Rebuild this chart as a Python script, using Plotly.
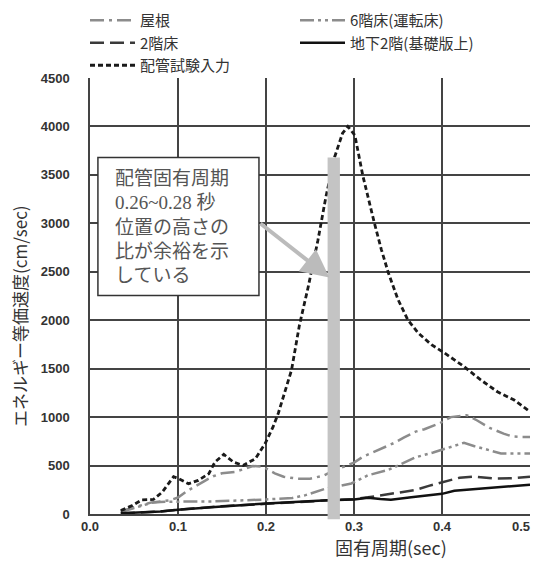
import plotly.graph_objects as go

# ---- data ----
roof_x = [0.035, 0.05, 0.07, 0.09, 0.10, 0.11, 0.12, 0.13, 0.14, 0.15, 0.165, 0.175, 0.185, 0.195,
          0.20, 0.21, 0.22, 0.235, 0.25, 0.265, 0.275, 0.29, 0.30, 0.31, 0.32, 0.333, 0.346, 0.357,
          0.37, 0.38, 0.397, 0.41, 0.428, 0.44, 0.455, 0.47, 0.48, 0.49, 0.50]
roof_y = [30, 70, 120, 140, 170, 235, 290, 340, 390, 420, 435, 465, 495, 490,
          470, 420, 385, 365, 365, 395, 440, 495, 530, 590, 630, 685, 735, 790,
          850, 875, 935, 1000, 1020, 965, 885, 830, 800, 795, 795]

f6_x = [0.035, 0.05, 0.07, 0.08, 0.10, 0.12, 0.14, 0.16, 0.18, 0.20, 0.22, 0.23, 0.245, 0.267,
        0.286, 0.297, 0.316, 0.339, 0.357, 0.37, 0.39, 0.41, 0.425, 0.437, 0.45, 0.467, 0.48, 0.50]
f6_y = [20, 60, 115, 125, 130, 130, 130, 135, 140, 150, 160, 165, 195, 260,
        295, 315, 400, 455, 530, 585, 635, 690, 735, 700, 665, 625, 625, 625]

f2_x = [0.035, 0.06, 0.08, 0.10, 0.12, 0.15, 0.20, 0.25, 0.28, 0.30, 0.316, 0.33, 0.35, 0.37,
        0.385, 0.40, 0.42, 0.437, 0.46, 0.48, 0.50]
f2_y = [5, 15, 25, 45, 60, 80, 105, 130, 145, 155, 172, 190, 222, 248,
        290, 325, 375, 385, 365, 370, 385]

b2_x = [0.035, 0.06, 0.08, 0.10, 0.12, 0.15, 0.20, 0.25, 0.27, 0.30, 0.316, 0.33, 0.342, 0.365,
        0.40, 0.414, 0.44, 0.47, 0.50]
b2_y = [8, 15, 25, 45, 60, 78, 108, 135, 143, 150, 168, 155, 148, 172,
        208, 240, 260, 278, 302]

pipe_x = [0.035, 0.048, 0.059, 0.072, 0.082, 0.090, 0.095, 0.101, 0.112, 0.123, 0.135, 0.142,
          0.152, 0.163, 0.174, 0.188, 0.199, 0.208, 0.214, 0.229, 0.238, 0.248, 0.259, 0.268,
          0.278, 0.287, 0.293, 0.301, 0.310, 0.323, 0.331, 0.339, 0.350, 0.361, 0.373, 0.388,
          0.403, 0.425, 0.444, 0.463, 0.482, 0.50]
pipe_y = [35, 87, 146, 150, 225, 329, 385, 364, 312, 347, 416, 536,
          615, 536, 502, 571, 727, 899, 1040, 1485, 1950, 2345, 2825, 3270,
          3685, 3930, 4000, 3908, 3493, 3009, 2732, 2490, 2214, 2006, 1868, 1747,
          1661, 1522, 1384, 1262, 1176, 1055]

names = ["屋根", "6階床(運転床)", "2階床", "地下2階(基礎版上)", "配管試験入力"]
x_ticks = [0.0, 0.1, 0.2, 0.3, 0.4, 0.5]
y_ticks = [0, 500, 1000, 1500, 2000, 2500, 3000, 3500, 4000, 4500]
note_lines = ["配管固有周期", "0.26~0.28 秒", "位置の高さの", "比が余裕を示", "している"]
note_line_y = [3460, 3210, 2960, 2710, 2460]

# the page body adds an 8px offset; keep the figure inside the visible window
W, H = 523, 551
ML, MT = 82, 70
PW, PH = 440, 436


def px_x(abs_x):
    return (abs_x - 8 - ML) / PW


def px_y(abs_y):
    return 1 - (abs_y - 8 - MT) / PH


fig = go.Figure()
fig.add_trace(go.Scatter(x=roof_x, y=roof_y, name=names[0], mode="lines",
                         line=dict(color="#8c8c8c", width=2.5, dash="14px,5px,3px,5px")))
fig.add_trace(go.Scatter(x=f6_x, y=f6_y, name=names[1], mode="lines",
                         line=dict(color="#8c8c8c", width=2.5, dash="14px,4px,3px,4px,3px,4px")))
fig.add_trace(go.Scatter(x=f2_x, y=f2_y, name=names[2], mode="lines",
                         line=dict(color="#3a3a3a", width=2.5, dash="14px,6px")))
fig.add_trace(go.Scatter(x=b2_x, y=b2_y, name=names[3], mode="lines",
                         line=dict(color="#111111", width=2.5)))
fig.add_trace(go.Scatter(x=pipe_x, y=pipe_y, name=names[4], mode="lines",
                         line=dict(color="#1a1a1a", width=2.8, dash="5px,3px")))

# gray marker band at 0.27-0.284 s
fig.add_shape(type="rect", xref="x", yref="paper", x0=0.270, x1=0.284,
              y0=-0.012, y1=3680 / 4500, fillcolor="#c4c4c4", line_width=0, layer="above")

# note box
fig.add_shape(type="rect", xref="x", yref="y", x0=0.009, x1=0.192, y0=2255, y1=3679,
              fillcolor="white", line=dict(color="#333333", width=1.5), layer="above")
for txt, yy in zip(note_lines, note_line_y):
    fig.add_annotation(x=0.026, y=yy, xref="x", yref="y", xanchor="left", yanchor="middle",
                       align="left", showarrow=False, text=txt,
                       font=dict(family="Liberation Serif, Noto Sans CJK JP", size=19,
                                 color="#555555"))
# arrow
fig.add_annotation(x=0.272, y=2440, ax=0.192, ay=3010, xref="x", yref="y", axref="x", ayref="y",
                   text="", showarrow=True, arrowhead=2, arrowsize=1.4, arrowwidth=4,
                   arrowcolor="#bbbbbb")

# axis titles
fig.add_annotation(x=px_x(391), y=px_y(547), xref="paper", yref="paper",
                   text="固有周期(sec)", showarrow=False, xanchor="center", yanchor="middle",
                   font=dict(family="Noto Sans CJK JP", size=18, color="#333333"))
fig.add_annotation(x=px_x(19), y=px_y(316), xref="paper", yref="paper",
                   text="エネルギー等価速度(cm/sec)", textangle=-90, showarrow=False,
                   xanchor="center", yanchor="middle",
                   font=dict(family="Noto Sans CJK JP", size=17, color="#333333"))

tick_font = dict(family="Liberation Sans Narrow, Liberation Sans", size=13,
                 color="#333333", weight="bold")
axis_common = dict(showgrid=True, gridcolor="#444444", gridwidth=1.5, showline=True,
                   linecolor="#444444", linewidth=1.5, zeroline=False, ticks="",
                   ticklabeloverflow="allow", tickfont=tick_font)

x_main_text = [f"{v:.1f}" for v in x_ticks[:-1]] + [""]

fig.update_layout(
    width=W, height=H,
    margin=dict(l=ML, r=W - ML - PW, t=MT, b=H - MT - PH, autoexpand=False),
    paper_bgcolor="white", plot_bgcolor="white",
    font=dict(family="Noto Sans CJK JP", color="#333333"),
    xaxis=dict(range=[0, 0.5], tickvals=x_ticks, ticktext=x_main_text, **axis_common),
    # last x label on an overlaid twin axis, nudged left so it stays inside the window
    xaxis2=dict(range=[0, 0.5], overlaying="x", side="bottom", anchor="y",
                tickvals=x_ticks[-1:], ticktext=[f"{x_ticks[-1]:.1f}"], ticklabelshift=-9,
                showgrid=False, showline=True, linecolor="#444444", linewidth=1.5,
                zeroline=False, ticks="", ticklabeloverflow="allow", tickfont=tick_font),
    yaxis=dict(range=[0, 4500], tickvals=y_ticks, ticktext=[str(v) for v in y_ticks],
               ticklabelstandoff=16, **axis_common),
    legend=dict(orientation="h", xref="container", yref="paper", x=77 / W,
                y=1 + (MT + 4) / PH,
                xanchor="left", yanchor="top", entrywidth=150, entrywidthmode="pixels",
                itemwidth=45, tracegroupgap=0,
                font=dict(family="Noto Sans CJK JP", size=15, color="#333333"),
                bgcolor="rgba(0,0,0,0)"),
    showlegend=True,
)
# an invisible trace to activate the twin axis
fig.add_trace(go.Scatter(x=[x_ticks[-1]], y=[y_ticks[0]], xaxis="x2", mode="markers",
                         marker=dict(opacity=0), showlegend=False, hoverinfo="skip"))

fig.write_html("out.html")
